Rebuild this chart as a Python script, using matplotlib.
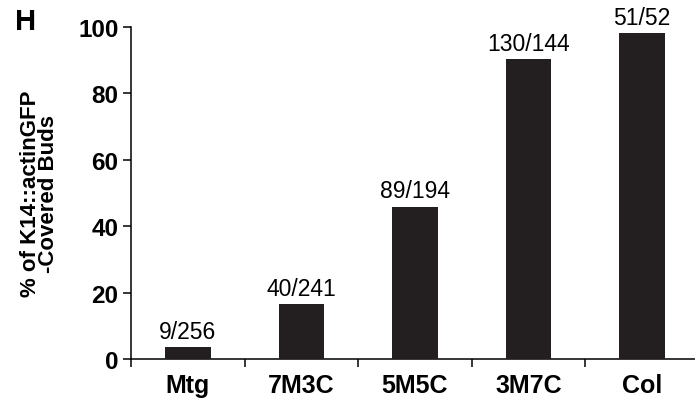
import matplotlib.pyplot as plt

plt.rcParams['font.family'] = ['Liberation Sans', 'DejaVu Sans']

categories = ['Mtg', '7M3C', '5M5C', '3M7C', 'Col']
percent = [3.5, 16.6, 45.9, 90.3, 98.1]
counts = ['9/256', '40/241', '89/194', '130/144', '51/52']
yticks = [0, 20, 40, 60, 80, 100]

fig = plt.figure(figsize=(6.95, 4.02), dpi=100)
ax = fig.add_axes([0.1885, 0.1045, 0.817, 0.826])

x = list(range(len(categories)))
bars = ax.bar(x, percent, width=0.4, color='#231f20', zorder=3)

# count labels above each bar
for xi, val, lab in zip(x, percent, counts):
    ax.annotate(lab, (xi, val), xytext=(0, 3), textcoords='offset points',
                ha='center', va='bottom', fontsize=16.5)

ax.set_xlim(-0.5, len(categories) - 0.5)
ax.set_ylim(0, 100)
ax.set_yticks(yticks)
ax.set_yticklabels([str(t) for t in yticks], fontsize=17.5, fontweight='bold')

# category names between the boundary ticks
ax.set_xticks([i - 0.5 for i in range(len(categories) + 1)])
ax.set_xticklabels([])
ax.set_xticks(x, minor=True)
ax.set_xticklabels(categories, minor=True, fontsize=18, fontweight='bold')
ax.tick_params(axis='x', which='minor', length=0, pad=10)
ax.tick_params(axis='x', which='major', length=6, width=1.1, direction='out')
ax.tick_params(axis='y', length=6, width=1.1, direction='out', pad=3)

for side in ['top', 'right']:
    ax.spines[side].set_visible(False)
for side in ['left', 'bottom']:
    ax.spines[side].set_linewidth(1.1)

ax.set_ylabel('% of K14::actinGFP\n-Covered Buds', fontsize=16,
              fontweight='bold', labelpad=14, linespacing=0.82)

fig.text(0.022, 0.91, 'H', fontsize=21, fontweight='bold', va='bottom')

fig.savefig('out.png', dpi=100)
